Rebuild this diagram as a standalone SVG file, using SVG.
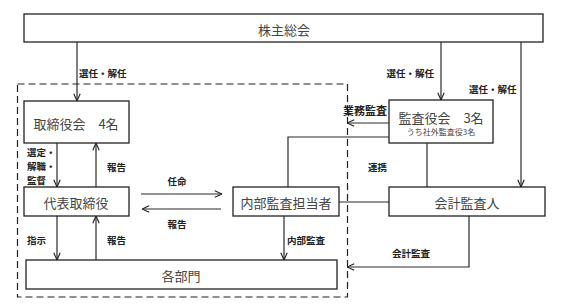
<svg xmlns="http://www.w3.org/2000/svg" width="567" height="305" viewBox="0 0 567 305">
<defs>
<style>
.box{fill:#fff;stroke:#222;stroke-width:1.3}
.bt{font-family:"Noto Sans CJK JP","Noto Sans",sans-serif;font-size:13px;fill:#444;text-anchor:middle;dominant-baseline:central}
.lb{font-family:"Noto Sans CJK JP","Noto Sans",sans-serif;font-size:9.5px;font-weight:bold;fill:#222;dominant-baseline:central}
.ln{fill:none;stroke:#2a2a2a;stroke-width:1.2}
.ar{marker-end:url(#a)}
</style>
<marker id="a" viewBox="0 0 10 10" refX="10" refY="5" markerWidth="8" markerHeight="8" markerUnits="userSpaceOnUse" orient="auto">
<path d="M1,1 L10,5 L1,9" fill="none" stroke="#222" stroke-width="1.4"/>
</marker>
</defs>
<rect x="17.5" y="84" width="330" height="213" fill="none" stroke="#222" stroke-width="1.2" stroke-dasharray="7 4"/>
<g id="n-shareholders"><rect class="box" x="24" y="14" width="519" height="28"/><text class="bt" x="284" y="29">株主総会</text></g>
<g id="n-board"><rect class="box" x="24" y="101" width="105" height="42"/><text class="bt" x="76" y="123">取締役会　4名</text></g>
<g id="n-auditors"><rect class="box" x="389" y="100" width="104" height="43"/><text class="bt" x="441" y="117">監査役会　3名</text><text class="bt" style="font-size:8px" x="441" y="131">うち社外監査役3名</text></g>
<g id="n-ceo"><rect class="box" x="24" y="187" width="105" height="29"/><text class="bt" x="76" y="202">代表取締役</text></g>
<g id="n-internal"><rect class="box" x="233" y="187" width="106" height="29"/><text class="bt" x="286" y="202">内部監査担当者</text></g>
<g id="n-accountant"><rect class="box" x="389" y="187" width="156" height="29"/><text class="bt" x="467" y="202">会計監査人</text></g>
<g id="n-depts"><rect class="box" x="26" y="260" width="311" height="29"/><text class="bt" x="181" y="275">各部門</text></g>
<g id="connectors">
<path class="ln ar" d="M77,42 V101"/>
<path class="ln ar" d="M441,42 V100"/>
<path class="ln ar" d="M521,42 V187"/>
<path class="ln ar" d="M57,143 V187"/>
<path class="ln ar" d="M96,187 V143"/>
<path class="ln ar" d="M141,194 H222"/>
<path class="ln ar" d="M221,209 H142"/>
<path class="ln ar" d="M57,216 V260"/>
<path class="ln ar" d="M96,260 V216"/>
<path class="ln ar" d="M284,216 V260"/>
<path class="ln ar" d="M389,123 H347"/>
<path class="ln" d="M389,137 H288 V187"/>
<path class="ln" d="M427,143 V187"/>
<path class="ln" d="M339,202 H389"/>
<path class="ln ar" d="M469,216 V267 H347"/>
</g>
<g id="labels">
<text class="lb" x="79" y="73">選任・解任</text>
<text class="lb" x="434" y="73" text-anchor="end">選任・解任</text>
<text class="lb" x="469" y="89">選任・解任</text>
<text class="lb" x="343" y="110" style="font-size:11px">業務監査</text>
<text class="lb" x="27" y="152">選定・</text>
<text class="lb" x="27" y="166">解職・</text>
<text class="lb" x="27" y="180">監督</text>
<text class="lb" x="107" y="167">報告</text>
<text class="lb" x="177" y="181" text-anchor="middle">任命</text>
<text class="lb" x="177" y="224" text-anchor="middle">報告</text>
<text class="lb" x="368" y="167">連携</text>
<text class="lb" x="27" y="240">指示</text>
<text class="lb" x="107" y="240">報告</text>
<text class="lb" x="287" y="240">内部監査</text>
<text class="lb" x="392" y="253">会計監査</text>
</g>
</svg>
